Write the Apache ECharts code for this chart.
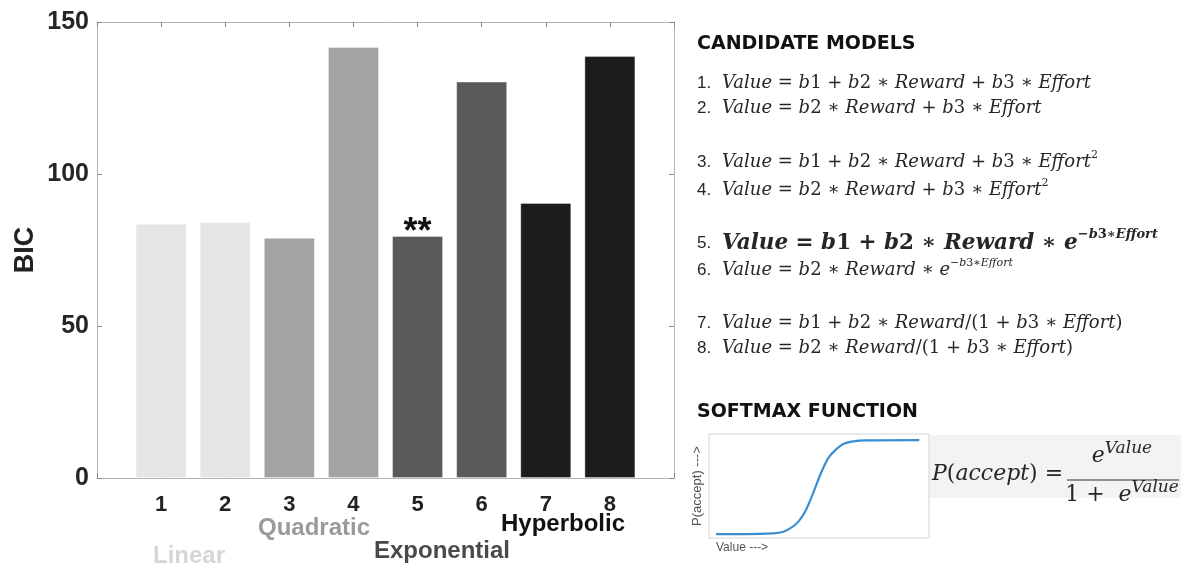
<!DOCTYPE html>
<html>
<head>
<meta charset="utf-8">
<script src="https://cdn.jsdelivr.net/npm/echarts@6/dist/echarts.min.js"></script>
<style>
  html, body { margin: 0; padding: 0; background: #fff; }
  #main { width: 1184px; height: 566px; }
</style>
</head>
<body>
<div id="main"></div>
<script>
// Model index and BIC score per candidate model
const modelIds = [1, 2, 3, 4, 5, 6, 7, 8];
const bicValues = [83.6, 84.2, 79.0, 141.8, 79.6, 130.4, 90.5, 138.8];
// Which functional family each model belongs to (index into familyNames)
const modelFamily = [0, 0, 1, 1, 2, 2, 3, 3];
const familyNames = ['Linear', 'Quadratic', 'Exponential', 'Hyperbolic'];
const bestModel = 5;
const bicTicks = [0, 50, 100, 150];

// Candidate model equations (^{...} marks a superscript)
const modelFormulas = [
  'Value = b1 + b2 ∗ Reward + b3 ∗ Effort',
  'Value = b2 ∗ Reward + b3 ∗ Effort',
  'Value = b1 + b2 ∗ Reward + b3 ∗ Effort^{2}',
  'Value = b2 ∗ Reward + b3 ∗ Effort^{2}',
  'Value = b1 + b2 ∗ Reward ∗ e^{−b3∗Effort}',
  'Value = b2 ∗ Reward ∗ e^{−b3∗Effort}',
  'Value = b1 + b2 ∗ Reward/(1 + b3 ∗ Effort)',
  'Value = b2 ∗ Reward/(1 + b3 ∗ Effort)'
];

// Logistic choice curve, sampled along the Value axis
const sigmoidX = [0.32, 1.71, 2.92, 3.38, 3.76, 4.06, 4.36, 4.67, 4.89, 5.12, 5.42, 5.73, 6.10, 6.56, 7.17, 9.56];
const sigmoidY = [0.0, 0.0, 0.008, 0.025, 0.07, 0.13, 0.23, 0.39, 0.52, 0.65, 0.79, 0.87, 0.936, 0.964, 0.974, 0.977];

// ---- styling ----
const familyBarColors = ['#e5e5e5', '#a3a3a3', '#595959', '#1c1c1c'];
const familyTextColors = ['#d6d6d6', '#9a9a9a', '#4a4a4a', '#111111'];
const familyLabelPos = [[189, 556], [314, 528], [442, 551], [563, 524]];
const formulaRows = [83, 108, 162, 190, 243, 270, 323, 348];
const frameColor = '#b5b5b5';
const tickColor = '#8a8a8a';

// Build a rich-text string for an equation: letters italic, digits/operators upright
function mathRich(expr, size, weight, prefix, supRatio) {
  const col = '#262626';
  const sup = Math.round(size * (supRatio || 0.62));
  const lh = Math.round(size * 1.4);
  const base = { fontFamily: 'DejaVu Serif', fontSize: size, fontWeight: weight, fill: col, lineHeight: lh };
  const rich = {
    n: { fontFamily: 'Liberation Sans', fontSize: 17, fill: col, width: 25, lineHeight: lh },
    i: Object.assign({}, base, { fontStyle: 'italic' }),
    u: Object.assign({}, base, { fontStyle: 'normal' }),
    si: Object.assign({}, base, { fontStyle: 'italic', fontSize: sup, lineHeight: sup, verticalAlign: 'top' }),
    su: Object.assign({}, base, { fontStyle: 'normal', fontSize: sup, lineHeight: sup, verticalAlign: 'top' })
  };
  let out = prefix ? '{n|' + prefix + '}' : '';
  const re = /\^\{([^}]*)\}|([^^]+)/g;
  let m;
  while ((m = re.exec(expr)) !== null) {
    const isSup = m[1] !== undefined;
    const seg = isSup ? m[1] : m[2];
    const runs = seg.match(/[A-Za-z]+|[^A-Za-z]+/g) || [];
    runs.forEach(r => {
      const letters = /[A-Za-z]/.test(r[0]);
      const key = (isSup ? 's' : '') + (letters ? 'i' : 'u');
      out += '{' + key + '|' + r + '}';
    });
  }
  return { text: out, rich: rich };
}

const chart = echarts.init(document.getElementById('main'), null, { renderer: 'canvas' });

const barData = modelIds.map((id, k) => {
  const item = {
    value: [id, bicValues[k]],
    itemStyle: { color: familyBarColors[modelFamily[k]], borderColor: 'rgba(255,255,255,0.35)', borderWidth: 1 }
  };
  if (id === bestModel) {
    item.label = {
      show: true, position: 'top', distance: -15, formatter: '**',
      fontFamily: 'Liberation Sans', fontWeight: 'bold', fontSize: 36, color: '#111'
    };
  }
  return item;
});

const graphics = [];
// family names below the model numbers
familyNames.forEach((name, k) => {
  graphics.push({
    type: 'text', x: familyLabelPos[k][0], y: familyLabelPos[k][1],
    style: {
      text: name, align: 'center', verticalAlign: 'middle',
      font: 'bold 24px "Liberation Sans"', fill: familyTextColors[k]
    }
  });
});
// headings
graphics.push({
  type: 'text', x: 697, y: 44,
  style: { text: 'CANDIDATE MODELS', align: 'left', verticalAlign: 'middle', font: 'bold 19px "DejaVu Sans"', fill: '#111' }
});
graphics.push({
  type: 'text', x: 697, y: 412,
  style: { text: 'SOFTMAX FUNCTION', align: 'left', verticalAlign: 'middle', font: 'bold 19px "DejaVu Sans"', fill: '#111' }
});
// model equations
modelFormulas.forEach((f, k) => {
  const best = modelIds[k] === bestModel;
  const r = mathRich(f, best ? 21.5 : 18, best ? 'bold' : 'normal', modelIds[k] + '.');
  graphics.push({
    type: 'text', x: 697, y: formulaRows[k],
    style: { text: r.text, rich: r.rich, align: 'left', verticalAlign: 'middle' }
  });
});
// softmax equation
graphics.push({ type: 'rect', shape: { x: 928, y: 435, width: 253, height: 63 }, style: { fill: '#f3f3f3' }, z: -1 });
const lhs = mathRich('P(accept) =', 22, 'normal');
graphics.push({ type: 'text', x: 932, y: 474, style: { text: lhs.text, rich: lhs.rich, align: 'left', verticalAlign: 'middle' } });
const num = mathRich('e^{Value}', 22, 'normal', null, 0.75);
graphics.push({ type: 'text', x: 1122, y: 456, style: { text: num.text, rich: num.rich, align: 'center', verticalAlign: 'middle' } });
const den = mathRich('1 +  e^{Value}', 22, 'normal', null, 0.75);
graphics.push({ type: 'text', x: 1122, y: 495, style: { text: den.text, rich: den.rich, align: 'center', verticalAlign: 'middle' } });
graphics.push({ type: 'line', shape: { x1: 1067, y1: 480, x2: 1179, y2: 480 }, style: { stroke: '#333', lineWidth: 1.2 } });
graphics.push({
  type: 'text', x: 716, y: 548,
  style: { text: 'Value --->', align: 'left', verticalAlign: 'middle', font: '12px "Liberation Sans"', fill: '#555' }
});

const tickStyle = { show: true, inside: true, length: 5, lineStyle: { color: tickColor } };
const frameLine = { show: true, onZero: false, lineStyle: { color: frameColor, width: 1 } };

const option = {
  backgroundColor: '#ffffff',
  animation: false,
  grid: [
    { left: 97, top: 22, width: 577, height: 456, show: false },
    { left: 709, top: 434, width: 220, height: 104, show: true, borderColor: '#d5d5d5', borderWidth: 1, backgroundColor: '#fff' }
  ],
  xAxis: [
    {
      gridIndex: 0, type: 'value', min: 0, max: 9, interval: 1,
      axisLine: frameLine, splitLine: { show: false }, axisTick: tickStyle,
      axisLabel: {
        margin: 16, fontFamily: 'Liberation Sans', fontWeight: 'bold', fontSize: 22, color: '#222',
        formatter: v => (modelIds.indexOf(v) >= 0 ? String(v) : '')
      }
    },
    {
      gridIndex: 0, type: 'value', position: 'top', min: 0, max: 9, interval: 1,
      axisLine: frameLine, splitLine: { show: false }, axisTick: tickStyle,
      axisLabel: { show: false }
    },
    { gridIndex: 1, type: 'value', min: 0, max: 10, show: false }
  ],
  yAxis: [
    {
      gridIndex: 0, type: 'value', min: 0, max: 150, interval: 50,
      name: 'BIC', nameLocation: 'middle', nameGap: 58, nameRotate: 90,
      nameTextStyle: { fontFamily: 'Liberation Sans', fontWeight: 'bold', fontSize: 27, color: '#222' },
      axisLine: frameLine, splitLine: { show: false }, axisTick: tickStyle,
      axisLabel: {
        margin: 8, fontFamily: 'Liberation Sans', fontWeight: 'bold', fontSize: 25, color: '#262626',
        formatter: v => (bicTicks.indexOf(v) >= 0 ? String(v) : '')
      }
    },
    {
      gridIndex: 0, type: 'value', position: 'right', min: 0, max: 150, interval: 50,
      axisLine: frameLine, splitLine: { show: false }, axisTick: tickStyle,
      axisLabel: { show: false }
    },
    {
      gridIndex: 1, type: 'value', min: -0.04, max: 1.04,
      name: 'P(accept) --->', nameLocation: 'middle', nameGap: 5, nameRotate: 90,
      nameTextStyle: { fontFamily: 'Liberation Sans', fontSize: 13, color: '#555' },
      axisLine: { show: false }, axisTick: { show: false }, axisLabel: { show: false }, splitLine: { show: false }
    }
  ],
  series: [
    {
      type: 'bar', xAxisIndex: 0, yAxisIndex: 0, barWidth: 51,
      data: barData
    },
    {
      type: 'line', xAxisIndex: 2, yAxisIndex: 2, smooth: 0.3,
      showSymbol: false, lineStyle: { color: '#3a8fd3', width: 2.2 },
      data: sigmoidX.map((x, k) => [x, sigmoidY[k]])
    }
  ],
  graphic: graphics
};

chart.setOption(option);
</script>
</body>
</html>
